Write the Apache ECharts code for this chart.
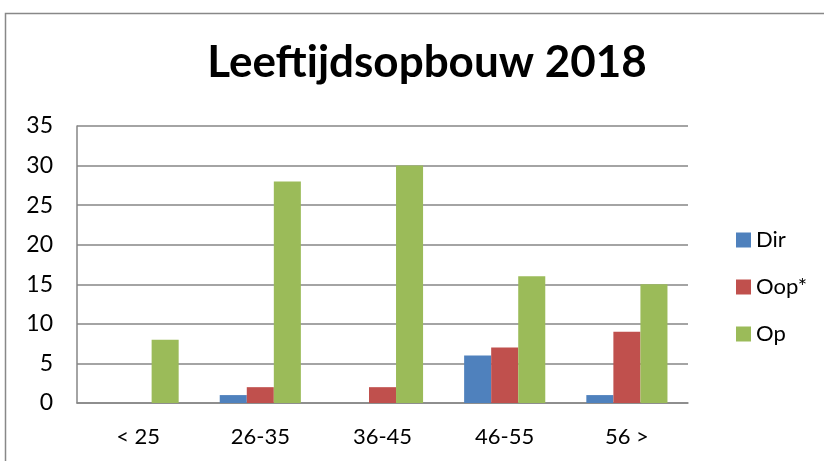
<!DOCTYPE html>
<html><head><meta charset="utf-8">
<script src="https://cdn.jsdelivr.net/npm/echarts@6/dist/echarts.min.js"></script>
<style>html,body{margin:0;padding:0;background:#fff}#c{width:824px;height:461px}</style>
</head><body><div id="c"></div>
<script>
const categories = ['< 25', '26-35', '36-45', '46-55', '56 >'];
const dir = [0, 1, 0, 6, 1];
const oop = [0, 2, 2, 7, 9];
const op = [8, 28, 30, 16, 15];
const seriesNames = ['Dir', 'Oop*', 'Op'];
const colors = ['#4F81BD', '#C0504D', '#9BBB59'];
const font = 'Lato, "Open Sans", sans-serif';
const chart = echarts.init(document.getElementById('c'));
const mk = (name, data, i) => ({
  name, type: 'bar', data, barGap: '0%', barCategoryGap: '33.6%',
  itemStyle: { color: colors[i] }
});
chart.setOption({
  animation: false,
  title: { text: 'Leeftijdsopbouw 2018', left: 422, textAlign: 'center', top: 36,
    textStyle: { fontFamily: font, fontWeight: 'bold', fontSize: 44, color: '#000' } },
  graphic: [{ type: 'rect', shape: { x: 5.5, y: 13.5, width: 900, height: 600 },
    style: { fill: 'none', stroke: '#888', lineWidth: 1.5 }, silent: true }],
  legend: { orient: 'vertical', left: 731, top: 224, itemWidth: 15, itemHeight: 15, itemGap: 25,
    icon: 'rect', textStyle: { fontFamily: font, fontSize: 22, color: '#000' },
    data: seriesNames },
  grid: { left: 77, top: 126, right: 136, bottom: 58, containLabel: false },
  xAxis: { type: 'category', data: categories,
    axisLine: { lineStyle: { color: '#868686', width: 1.5 } }, axisTick: { show: false },
    axisLabel: { fontFamily: font, fontSize: 22, color: '#000', margin: 23 } },
  yAxis: { type: 'value', min: 0, max: 35, interval: 5,
    axisLine: { show: true, lineStyle: { color: '#868686', width: 1.5 } }, axisTick: { show: false },
    splitLine: { lineStyle: { color: '#868686', width: 1.5 } },
    axisLabel: { fontFamily: font, fontSize: 23, color: '#000', margin: 24 } },
  series: [mk(seriesNames[0], dir, 0), mk(seriesNames[1], oop, 1), mk(seriesNames[2], op, 2)]
});
</script></body></html>
